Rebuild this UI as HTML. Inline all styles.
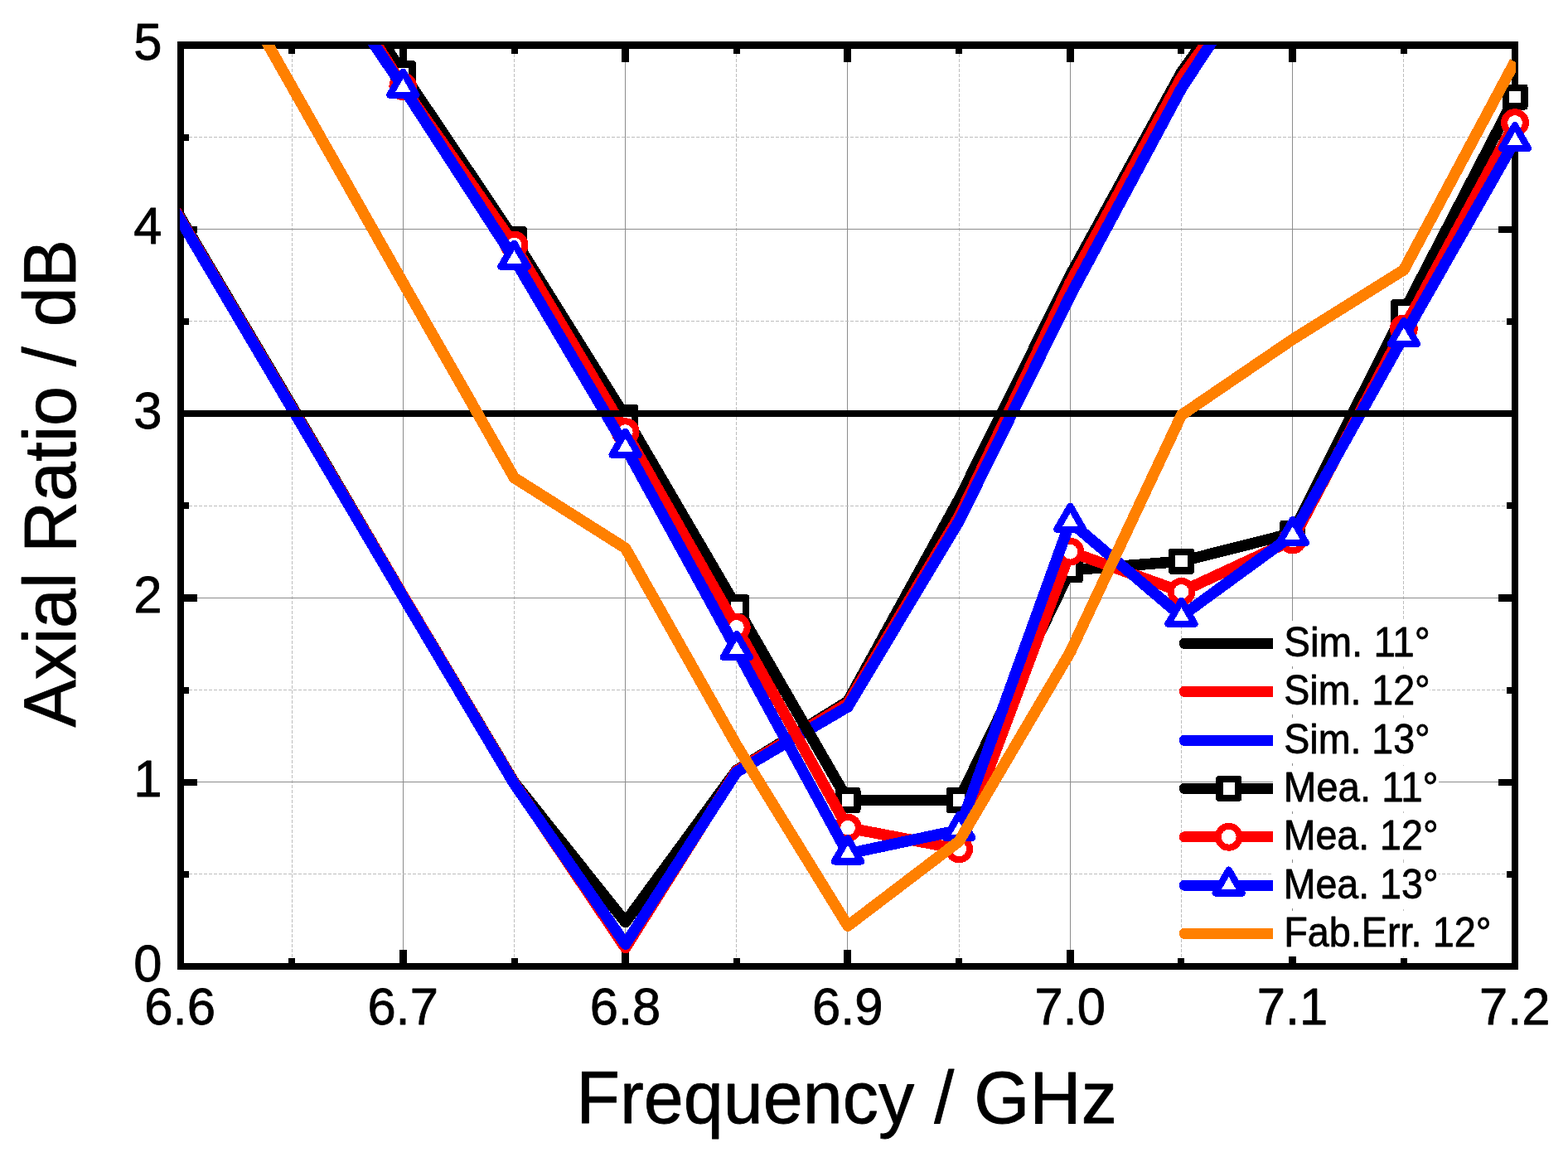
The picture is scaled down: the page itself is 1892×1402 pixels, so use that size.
<!DOCTYPE html>
<html lang="en"><head><meta charset="utf-8"><title>Axial Ratio vs Frequency</title>
<style>html,body{margin:0;padding:0;background:#fff;}body{width:1892px;height:1402px;overflow:hidden;}svg{display:block;}text{font-family:"Liberation Sans",sans-serif;fill:#000;stroke:#000;stroke-width:0.8;stroke-linejoin:round;}</style>
</head><body>
<svg width="1892" height="1402" viewBox="0 0 1892 1402">
<rect x="0" y="0" width="1892" height="1402" fill="#ffffff"/>
<defs><clipPath id="plotclip"><rect x="217" y="54" width="1612" height="1113"/></clipPath></defs>
<g shape-rendering="crispEdges"><rect x="214" y="50" width="1618" height="1120" fill="#000"/><rect x="222" y="59" width="1602" height="1103" fill="#fff"/></g>
<g shape-rendering="crispEdges" fill="none">
<line x1="352.5" y1="59" x2="352.5" y2="1162" stroke="#bdbdbd" stroke-width="1" stroke-dasharray="4 2"/>
<line x1="486.5" y1="59" x2="486.5" y2="1162" stroke="#8c8c8c" stroke-width="1"/>
<line x1="620.5" y1="59" x2="620.5" y2="1162" stroke="#bdbdbd" stroke-width="1" stroke-dasharray="4 2"/>
<line x1="754.5" y1="59" x2="754.5" y2="1162" stroke="#8c8c8c" stroke-width="1"/>
<line x1="888.5" y1="59" x2="888.5" y2="1162" stroke="#bdbdbd" stroke-width="1" stroke-dasharray="4 2"/>
<line x1="1022.5" y1="59" x2="1022.5" y2="1162" stroke="#8c8c8c" stroke-width="1"/>
<line x1="1157.5" y1="59" x2="1157.5" y2="1162" stroke="#bdbdbd" stroke-width="1" stroke-dasharray="4 2"/>
<line x1="1291.5" y1="59" x2="1291.5" y2="1162" stroke="#8c8c8c" stroke-width="1"/>
<line x1="1425.5" y1="59" x2="1425.5" y2="1162" stroke="#bdbdbd" stroke-width="1" stroke-dasharray="4 2"/>
<line x1="1559.5" y1="59" x2="1559.5" y2="1162" stroke="#8c8c8c" stroke-width="1"/>
<line x1="1693.5" y1="59" x2="1693.5" y2="1162" stroke="#bdbdbd" stroke-width="1" stroke-dasharray="4 2"/>
<line x1="222" y1="1054.5" x2="1824" y2="1054.5" stroke="#bdbdbd" stroke-width="1" stroke-dasharray="4 2"/>
<line x1="222" y1="943.5" x2="1824" y2="943.5" stroke="#8c8c8c" stroke-width="1"/>
<line x1="222" y1="832.5" x2="1824" y2="832.5" stroke="#bdbdbd" stroke-width="1" stroke-dasharray="4 2"/>
<line x1="222" y1="721.5" x2="1824" y2="721.5" stroke="#8c8c8c" stroke-width="1"/>
<line x1="222" y1="610.5" x2="1824" y2="610.5" stroke="#bdbdbd" stroke-width="1" stroke-dasharray="4 2"/>
<line x1="222" y1="499.5" x2="1824" y2="499.5" stroke="#8c8c8c" stroke-width="1"/>
<line x1="222" y1="387.5" x2="1824" y2="387.5" stroke="#bdbdbd" stroke-width="1" stroke-dasharray="4 2"/>
<line x1="222" y1="276.5" x2="1824" y2="276.5" stroke="#8c8c8c" stroke-width="1"/>
<line x1="222" y1="165.5" x2="1824" y2="165.5" stroke="#bdbdbd" stroke-width="1" stroke-dasharray="4 2"/>
</g>
<g shape-rendering="crispEdges" fill="#000">
<rect x="348" y="59" width="8" height="6"/>
<rect x="348" y="1156" width="8" height="6"/>
<rect x="482" y="59" width="9" height="16"/>
<rect x="482" y="1146" width="9" height="16"/>
<rect x="617" y="59" width="8" height="6"/>
<rect x="617" y="1156" width="8" height="6"/>
<rect x="750" y="59" width="9" height="16"/>
<rect x="750" y="1146" width="9" height="16"/>
<rect x="885" y="59" width="8" height="6"/>
<rect x="885" y="1156" width="8" height="6"/>
<rect x="1018" y="59" width="9" height="16"/>
<rect x="1018" y="1146" width="9" height="16"/>
<rect x="1153" y="59" width="8" height="6"/>
<rect x="1153" y="1156" width="8" height="6"/>
<rect x="1287" y="59" width="9" height="16"/>
<rect x="1287" y="1146" width="9" height="16"/>
<rect x="1421" y="59" width="8" height="6"/>
<rect x="1421" y="1156" width="8" height="6"/>
<rect x="1555" y="59" width="9" height="16"/>
<rect x="1555" y="1146" width="9" height="16"/>
<rect x="1690" y="59" width="8" height="6"/>
<rect x="1690" y="1156" width="8" height="6"/>
<rect x="222" y="1051" width="6" height="8"/>
<rect x="1818" y="1051" width="6" height="8"/>
<rect x="222" y="940" width="16" height="8"/>
<rect x="1808" y="940" width="16" height="8"/>
<rect x="222" y="829" width="6" height="8"/>
<rect x="1818" y="829" width="6" height="8"/>
<rect x="222" y="717" width="16" height="9"/>
<rect x="1808" y="717" width="16" height="9"/>
<rect x="222" y="606" width="6" height="8"/>
<rect x="1818" y="606" width="6" height="8"/>
<rect x="222" y="495" width="16" height="8"/>
<rect x="1808" y="495" width="16" height="8"/>
<rect x="222" y="384" width="6" height="8"/>
<rect x="1818" y="384" width="6" height="8"/>
<rect x="222" y="273" width="16" height="8"/>
<rect x="1808" y="273" width="16" height="8"/>
<rect x="222" y="162" width="6" height="8"/>
<rect x="1818" y="162" width="6" height="8"/>
</g>
<g fill="none" stroke-linejoin="round" stroke-linecap="butt" clip-path="url(#plotclip)" shape-rendering="crispEdges">
<polyline points="83.83,36.05 218.00,263.02 352.17,489.99 486.33,718.73 620.50,944.14 754.67,1112.49 888.83,929.25 1023.00,846.33 1157.17,602.47 1291.33,332.38 1425.50,87.40 1559.67,-101.11 1693.83,-390.10 1828.00,-612.40" stroke="#000000" stroke-width="13.5"/>
<polyline points="83.83,37.83 218.00,264.80 352.17,491.76 486.33,718.73 620.50,944.81 754.67,1143.55 888.83,929.92 1023.00,848.56 1157.17,623.14 1291.33,340.82 1425.50,93.62 1559.67,-92.22 1693.83,-390.10 1828.00,-612.40" stroke="#ff0000" stroke-width="13.5"/>
<polyline points="83.83,39.05 218.00,265.91 352.17,492.76 486.33,720.00 620.50,945.81 754.67,1139.10 888.83,931.47 1023.00,852.78 1157.17,628.70 1291.33,356.83 1425.50,106.74 1559.67,-98.00 1693.83,-390.10 1828.00,-612.40" stroke="#0000ff" stroke-width="13.5"/>
</g>
<g clip-path="url(#plotclip)" shape-rendering="crispEdges"><polyline points="352.17,-120.23 486.33,88.73 620.50,288.58 754.67,503.10 888.83,732.74 1023.00,965.55 1157.17,965.55 1291.33,687.83 1425.50,677.30 1559.67,643.37 1693.83,376.50 1828.00,117.06" fill="none" stroke="#000000" stroke-width="13.5" stroke-linejoin="round"/></g>
<g shape-rendering="crispEdges">
<rect x="470.83" y="73.23" width="31" height="31" rx="3.6" fill="#000000"/><rect x="479.23" y="81.63" width="14.2" height="14.2" fill="#fff"/>
<rect x="605.00" y="273.08" width="31" height="31" rx="3.6" fill="#000000"/><rect x="613.40" y="281.48" width="14.2" height="14.2" fill="#fff"/>
<rect x="739.17" y="487.60" width="31" height="31" rx="3.6" fill="#000000"/><rect x="747.57" y="496.00" width="14.2" height="14.2" fill="#fff"/>
<rect x="873.33" y="717.24" width="31" height="31" rx="3.6" fill="#000000"/><rect x="881.73" y="725.64" width="14.2" height="14.2" fill="#fff"/>
<rect x="1007.50" y="950.05" width="31" height="31" rx="3.6" fill="#000000"/><rect x="1015.90" y="958.45" width="14.2" height="14.2" fill="#fff"/>
<rect x="1141.67" y="950.05" width="31" height="31" rx="3.6" fill="#000000"/><rect x="1150.07" y="958.45" width="14.2" height="14.2" fill="#fff"/>
<rect x="1275.83" y="672.33" width="31" height="31" rx="3.6" fill="#000000"/><rect x="1284.23" y="680.73" width="14.2" height="14.2" fill="#fff"/>
<rect x="1410.00" y="661.80" width="31" height="31" rx="3.6" fill="#000000"/><rect x="1418.40" y="670.20" width="14.2" height="14.2" fill="#fff"/>
<rect x="1544.17" y="627.87" width="31" height="31" rx="3.6" fill="#000000"/><rect x="1552.57" y="636.27" width="14.2" height="14.2" fill="#fff"/>
<rect x="1678.33" y="361.00" width="31" height="31" rx="3.6" fill="#000000"/><rect x="1686.73" y="369.40" width="14.2" height="14.2" fill="#fff"/>
<rect x="1812.50" y="101.56" width="31" height="31" rx="3.6" fill="#000000"/><rect x="1820.90" y="109.96" width="14.2" height="14.2" fill="#fff"/>
</g>
<g clip-path="url(#plotclip)" shape-rendering="crispEdges"><polyline points="352.17,-110.00 486.33,104.30 620.50,295.47 754.67,521.11 888.83,756.97 1023.00,998.74 1157.17,1024.39 1291.33,665.69 1425.50,713.91 1559.67,651.60 1693.83,396.51 1828.00,148.09" fill="none" stroke="#ff0000" stroke-width="13.5" stroke-linejoin="round"/></g>
<g shape-rendering="crispEdges">
<circle cx="486.33" cy="104.30" r="12.9" fill="#fff" stroke="#ff0000" stroke-width="8.0"/>
<circle cx="620.50" cy="295.47" r="12.9" fill="#fff" stroke="#ff0000" stroke-width="8.0"/>
<circle cx="754.67" cy="521.11" r="12.9" fill="#fff" stroke="#ff0000" stroke-width="8.0"/>
<circle cx="888.83" cy="756.97" r="12.9" fill="#fff" stroke="#ff0000" stroke-width="8.0"/>
<circle cx="1023.00" cy="998.74" r="12.9" fill="#fff" stroke="#ff0000" stroke-width="8.0"/>
<circle cx="1157.17" cy="1024.39" r="12.9" fill="#fff" stroke="#ff0000" stroke-width="8.0"/>
<circle cx="1291.33" cy="665.69" r="12.9" fill="#fff" stroke="#ff0000" stroke-width="8.0"/>
<circle cx="1425.50" cy="713.91" r="12.9" fill="#fff" stroke="#ff0000" stroke-width="8.0"/>
<circle cx="1559.67" cy="651.60" r="12.9" fill="#fff" stroke="#ff0000" stroke-width="8.0"/>
<circle cx="1693.83" cy="396.51" r="12.9" fill="#fff" stroke="#ff0000" stroke-width="8.0"/>
<circle cx="1828.00" cy="148.09" r="12.9" fill="#fff" stroke="#ff0000" stroke-width="8.0"/>
</g>
<g clip-path="url(#plotclip)" shape-rendering="crispEdges"><polyline points="352.17,-94.66 486.33,105.41 620.50,312.37 754.67,539.56 888.83,783.76 1023.00,1030.11 1157.17,1001.50 1291.33,629.41 1425.50,743.50 1559.67,645.60 1693.83,405.69 1828.00,169.87" fill="none" stroke="#0000ff" stroke-width="13.5" stroke-linejoin="round"/></g>
<g shape-rendering="crispEdges">
<polygon points="486.33,86.81 502.43,114.71 470.23,114.71" fill="#fff" stroke="#0000ff" stroke-width="8.3" stroke-linejoin="round"/>
<polygon points="620.50,293.77 636.60,321.67 604.40,321.67" fill="#fff" stroke="#0000ff" stroke-width="8.3" stroke-linejoin="round"/>
<polygon points="754.67,520.96 770.77,548.86 738.57,548.86" fill="#fff" stroke="#0000ff" stroke-width="8.3" stroke-linejoin="round"/>
<polygon points="888.83,765.16 904.93,793.06 872.73,793.06" fill="#fff" stroke="#0000ff" stroke-width="8.3" stroke-linejoin="round"/>
<polygon points="1023.00,1011.51 1039.10,1039.41 1006.90,1039.41" fill="#fff" stroke="#0000ff" stroke-width="8.3" stroke-linejoin="round"/>
<polygon points="1157.17,982.90 1173.27,1010.80 1141.07,1010.80" fill="#fff" stroke="#0000ff" stroke-width="8.3" stroke-linejoin="round"/>
<polygon points="1291.33,610.81 1307.43,638.71 1275.23,638.71" fill="#fff" stroke="#0000ff" stroke-width="8.3" stroke-linejoin="round"/>
<polygon points="1425.50,724.90 1441.60,752.80 1409.40,752.80" fill="#fff" stroke="#0000ff" stroke-width="8.3" stroke-linejoin="round"/>
<polygon points="1559.67,627.00 1575.77,654.90 1543.57,654.90" fill="#fff" stroke="#0000ff" stroke-width="8.3" stroke-linejoin="round"/>
<polygon points="1693.83,387.09 1709.93,414.99 1677.73,414.99" fill="#fff" stroke="#0000ff" stroke-width="8.3" stroke-linejoin="round"/>
<polygon points="1828.00,151.27 1844.10,179.17 1811.90,179.17" fill="#fff" stroke="#0000ff" stroke-width="8.3" stroke-linejoin="round"/>
</g>
<rect x="222" y="495" width="1602" height="8" fill="#000" shape-rendering="crispEdges"/>
<g clip-path="url(#plotclip)" shape-rendering="crispEdges"><polyline points="83.83,-368.98 218.00,-132.23 352.17,104.52 486.33,341.27 620.50,576.46 754.67,661.38 888.83,899.24 1023.00,1117.09 1157.17,1015.06 1291.33,786.98 1425.50,500.88 1559.67,409.51 1693.83,325.71 1828.00,74.40" fill="none" stroke="#ff8000" stroke-width="13.5" stroke-linejoin="round"/></g>
<g shape-rendering="crispEdges">
<line x1="1429.2" y1="776.4" x2="1542" y2="776.4" stroke="#000000" stroke-width="13" stroke-linecap="round"/>
<rect x="1536" y="748.9" width="189" height="55" fill="#fff" shape-rendering="crispEdges"/>
<text x="1549.24" y="792.0" font-size="49.6" textLength="176.51" lengthAdjust="spacingAndGlyphs" stroke-width="1.3">Sim. 11°</text>
<line x1="1429.2" y1="834.4" x2="1542" y2="834.4" stroke="#ff0000" stroke-width="13" stroke-linecap="round"/>
<rect x="1536" y="806.9" width="189" height="55" fill="#fff" shape-rendering="crispEdges"/>
<text x="1549.24" y="850.0" font-size="49.6" textLength="176.51" lengthAdjust="spacingAndGlyphs" stroke-width="1.3">Sim. 12°</text>
<line x1="1429.2" y1="893.4" x2="1542" y2="893.4" stroke="#0000ff" stroke-width="13" stroke-linecap="round"/>
<rect x="1536" y="865.9" width="189" height="55" fill="#fff" shape-rendering="crispEdges"/>
<text x="1549.24" y="909.0" font-size="49.6" textLength="176.51" lengthAdjust="spacingAndGlyphs" stroke-width="1.3">Sim. 13°</text>
<line x1="1429.2" y1="951.4" x2="1542" y2="951.4" stroke="#000000" stroke-width="13" stroke-linecap="round"/>
<rect x="1467.20" y="935.90" width="31" height="31" rx="3.6" fill="#000000"/><rect x="1475.60" y="944.30" width="14.2" height="14.2" fill="#fff"/>
<rect x="1536" y="923.9" width="200" height="55" fill="#fff" shape-rendering="crispEdges"/>
<text x="1548.63" y="967.0" font-size="49.6" textLength="186.92" lengthAdjust="spacingAndGlyphs" stroke-width="1.3">Mea. 11°</text>
<line x1="1429.2" y1="1009.8" x2="1542" y2="1009.8" stroke="#ff0000" stroke-width="13" stroke-linecap="round"/>
<circle cx="1482.70" cy="1009.80" r="12.9" fill="#fff" stroke="#ff0000" stroke-width="8.0"/>
<rect x="1536" y="982.3" width="200" height="55" fill="#fff" shape-rendering="crispEdges"/>
<text x="1548.63" y="1025.4" font-size="49.6" textLength="186.92" lengthAdjust="spacingAndGlyphs" stroke-width="1.3">Mea. 12°</text>
<line x1="1429.2" y1="1068.2" x2="1542" y2="1068.2" stroke="#0000ff" stroke-width="13" stroke-linecap="round"/>
<polygon points="1482.70,1049.60 1498.80,1077.50 1466.60,1077.50" fill="#fff" stroke="#0000ff" stroke-width="8.3" stroke-linejoin="round"/>
<rect x="1536" y="1040.7" width="200" height="55" fill="#fff" shape-rendering="crispEdges"/>
<text x="1548.63" y="1083.8" font-size="49.6" textLength="186.92" lengthAdjust="spacingAndGlyphs" stroke-width="1.3">Mea. 13°</text>
<line x1="1429.2" y1="1126.4" x2="1542" y2="1126.4" stroke="#ff8000" stroke-width="13" stroke-linecap="round"/>
<rect x="1536" y="1098.9" width="264" height="55" fill="#fff" shape-rendering="crispEdges"/>
<text x="1549.15" y="1142.0" font-size="49.6" textLength="250.28" lengthAdjust="spacingAndGlyphs" stroke-width="1.3">Fab.Err. 12°</text>
</g>
<g>
<text x="174.25" y="1236.1" font-size="62.3" textLength="85.89" lengthAdjust="spacingAndGlyphs" stroke-width="1.3">6.6</text>
<text x="443.39" y="1236.1" font-size="62.3" textLength="85.49" lengthAdjust="spacingAndGlyphs" stroke-width="1.3">6.7</text>
<text x="711.72" y="1236.1" font-size="62.3" textLength="85.49" lengthAdjust="spacingAndGlyphs" stroke-width="1.3">6.8</text>
<text x="980.05" y="1236.1" font-size="62.3" textLength="85.49" lengthAdjust="spacingAndGlyphs" stroke-width="1.3">6.9</text>
<text x="1248.39" y="1236.1" font-size="62.3" textLength="85.49" lengthAdjust="spacingAndGlyphs" stroke-width="1.3">7.0</text>
<text x="1516.72" y="1236.1" font-size="62.3" textLength="85.49" lengthAdjust="spacingAndGlyphs" stroke-width="1.3">7.1</text>
<text x="1785.05" y="1236.1" font-size="62.3" textLength="85.49" lengthAdjust="spacingAndGlyphs" stroke-width="1.3">7.2</text>
<text x="161.2" y="1183.6" font-size="62.3" textLength="34.2" lengthAdjust="spacingAndGlyphs" stroke-width="1.3">0</text>
<text x="161.2" y="961.3" font-size="62.3" textLength="34.2" lengthAdjust="spacingAndGlyphs" stroke-width="1.3">1</text>
<text x="161.2" y="739.0" font-size="62.3" textLength="34.2" lengthAdjust="spacingAndGlyphs" stroke-width="1.3">2</text>
<text x="161.2" y="516.7" font-size="62.3" textLength="34.2" lengthAdjust="spacingAndGlyphs" stroke-width="1.3">3</text>
<text x="161.2" y="294.4" font-size="62.3" textLength="34.2" lengthAdjust="spacingAndGlyphs" stroke-width="1.3">4</text>
<text x="161.2" y="72.1" font-size="62.3" textLength="34.2" lengthAdjust="spacingAndGlyphs" stroke-width="1.3">5</text>
</g>
<text x="695.22" y="1355.1" font-size="89.5" textLength="652.68" lengthAdjust="spacingAndGlyphs">Frequency / GHz</text>
<text transform="translate(91.2,877.57) rotate(-90)" font-size="89.5" textLength="588.51" lengthAdjust="spacingAndGlyphs">Axial Ratio / dB</text>
</svg></body></html>
